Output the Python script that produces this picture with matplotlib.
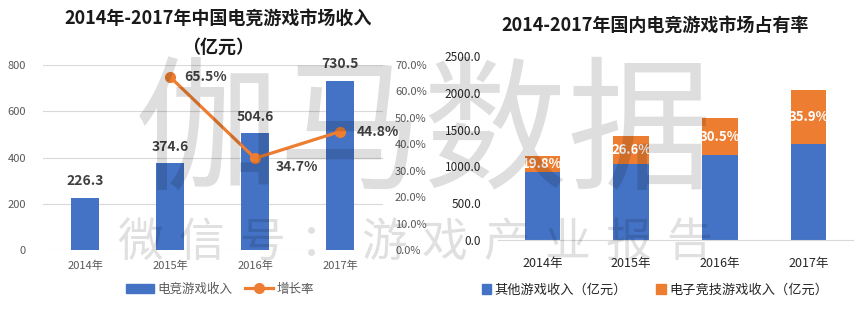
import numpy as np
import matplotlib
matplotlib.use("Agg")
import matplotlib.pyplot as plt
from matplotlib.patches import Patch
from matplotlib.lines import Line2D

plt.rcParams['font.family'] = ['Noto Sans CJK SC', 'DejaVu Sans']

years = ['2014年', '2015年', '2016年', '2017年']
esports = [226.3, 374.6, 504.6, 730.5]          # 电竞游戏收入（亿元）
growth = [None, 65.5, 34.7, 44.8]               # 增长率 %
total_market = [1144.8, 1407.0, 1655.7, 2036.1]  # 国内游戏市场（亿元）
others = [t - e for t, e in zip(total_market, esports)]

BLUE = '#4472C4'
ORANGE = '#ED7D31'
GRID = '#D9D9D9'
TICK = '#595959'
LABEL = '#404040'

W, H = 858, 322
fig = plt.figure(figsize=(W / 100, H / 100), dpi=100)


def px_axes(x0, y_top, x1, y_bot):
    return fig.add_axes([x0 / W, 1 - y_bot / H, (x1 - x0) / W, (y_bot - y_top) / H])


# ---- left: revenue bars + growth line ----
ax = px_axes(42.5, 65, 382.5, 250)
x = np.arange(len(years))
ax.bar(x, esports, width=0.32, color=BLUE, zorder=2)
ax.set_xlim(-0.5, 3.5)
ax.set_ylim(0, 800)
ax.set_yticks([0, 200, 400, 600, 800])
ax.grid(axis='y', color=GRID, lw=0.8, zorder=0)
ax.set_axisbelow(True)
for s in ax.spines.values():
    s.set_visible(False)
ax.tick_params(length=0, colors=TICK, labelsize=8)
ax.tick_params(axis='y', pad=12)
ax.tick_params(axis='x', pad=8)
ax.set_xticks(x)
ax.set_xticklabels(years)
for xi, v in zip(x, esports):
    ax.annotate(f'{v}', (xi, v), xytext=(0, 7), textcoords='offset points',
                ha='center', va='bottom', fontsize=10, fontweight='bold', color=LABEL)

ax2 = ax.twinx()
ax2.set_ylim(0, 70)
ax2.set_yticks(np.arange(0, 71, 10))
ax2.set_yticklabels([f'{t:.1f}%' for t in np.arange(0, 71, 10)])
for s in ax2.spines.values():
    s.set_visible(False)
ax2.tick_params(length=0, colors=TICK, labelsize=8, pad=9)
gx = x[1:]
gy = growth[1:]
ax2.plot(gx, gy, color=ORANGE, lw=2.3, marker='o', ms=7, zorder=3)
offsets = [(10, 0), (15, -6), (12, 0)]
for xi, v, off in zip(gx, gy, offsets):
    ax2.annotate(f'{v}%', (xi, v), xytext=off, textcoords='offset points',
                 ha='left', va='center', fontsize=10, fontweight='bold', color=LABEL)

fig.text(218 / W, 1 - 18 / H, '2014年-2017年中国电竞游戏市场收入', ha='center', va='center',
         fontsize=13, fontweight='bold', color='#1a1a1a')
fig.text(218 / W, 1 - 47 / H, '（亿元）', ha='center', va='center',
         fontsize=13, fontweight='bold', color='#1a1a1a')

left_handles = [Patch(color=BLUE),
                Line2D([], [], color=ORANGE, lw=2.3, marker='o', ms=7, markevery=[0])]
fig.legend(left_handles, ['电竞游戏收入', '增长率'], loc='center',
           bbox_to_anchor=(220 / W, 1 - 289 / H), ncol=2, frameon=False,
           fontsize=9, handlelength=2.2, handletextpad=0.3, columnspacing=1.0,
           labelcolor=TICK)

# ---- right: stacked market share bars ----
bx = px_axes(498, 56, 853, 240)
bx.bar(x, others, width=0.4, color=BLUE, zorder=2)
bx.bar(x, esports, width=0.4, bottom=others, color=ORANGE, zorder=2)
bx.set_xlim(-0.5, 3.5)
bx.set_ylim(0, 2500)
bx.set_yticks(np.arange(0, 2501, 500))
bx.set_yticklabels([f'{t:.1f}' for t in np.arange(0, 2501, 500)])
for s in ['top', 'right', 'left']:
    bx.spines[s].set_visible(False)
bx.spines['bottom'].set_color(GRID)
bx.tick_params(length=0, colors='#262626', labelsize=8.5)
bx.tick_params(axis='y', pad=12)
bx.tick_params(axis='x', pad=12, labelsize=9)
bx.set_xticks(x)
bx.set_xticklabels(years)
for xi, o, e, t in zip(x, others, esports, total_market):
    bx.text(xi, o + e / 2, f'{e / t * 100:.1f}%', ha='center', va='center',
            fontsize=9.5, fontweight='bold', color='white', zorder=3)

fig.text(655 / W, 1 - 25 / H, '2014-2017年国内电竞游戏市场占有率', ha='center', va='center',
         fontsize=13, fontweight='bold', color='#1a1a1a')

right_handles = [Patch(color=BLUE), Patch(color=ORANGE)]
fig.legend(right_handles, ['其他游戏收入（亿元）', '电子竞技游戏收入（亿元）'], loc='center',
           bbox_to_anchor=(655 / W, 1 - 290 / H), ncol=2, frameon=False,
           fontsize=9.5, handlelength=0.7, handleheight=0.7, handletextpad=0.3,
           columnspacing=2.2, labelcolor='#262626')

# ---- watermark ----
fig.text(424 / W, 1 - 137 / H, '伽马数据', ha='center', va='center', fontsize=104,
         fontweight='light', color='black', alpha=0.13, zorder=10)
for cx, ch in zip(np.linspace(140, 689, 10), '微信号：游戏产业报告'):
    fig.text(cx / W, 1 - 243 / H, ch, ha='center', va='center', fontsize=33,
             fontweight='light', color='black', alpha=0.12, zorder=10)

fig.savefig('out.png', dpi=100)
